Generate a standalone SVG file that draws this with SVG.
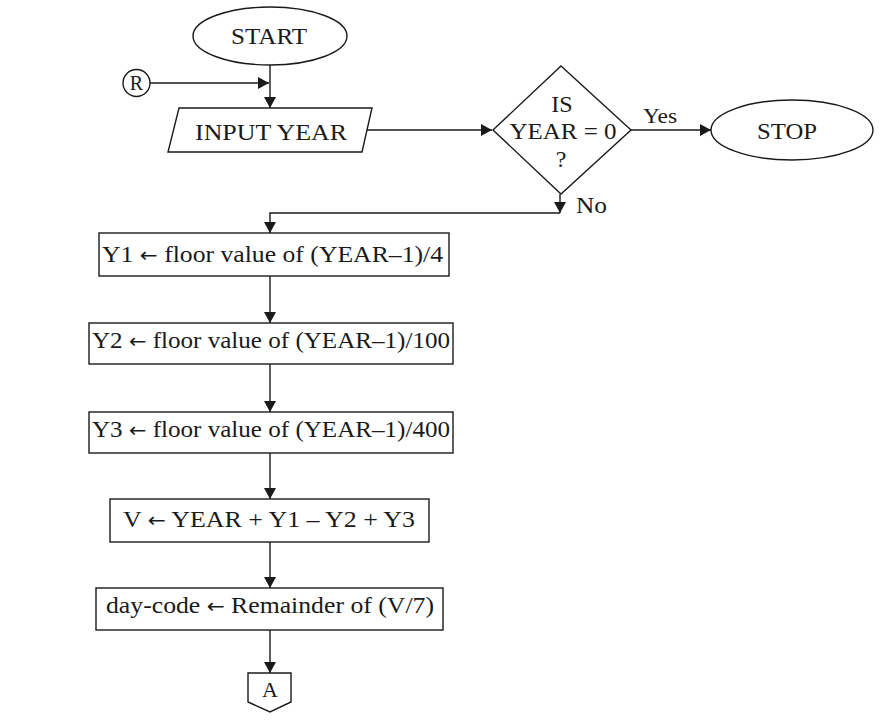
<svg xmlns="http://www.w3.org/2000/svg" width="882" height="720" viewBox="0 0 882 720">
<defs>
<marker id="ah" markerUnits="userSpaceOnUse" markerWidth="12" markerHeight="13" refX="11" refY="6.5" orient="auto">
<path d="M0,0.5 L11,6.5 L0,12.5 z" fill="#1a1a1a"/>
</marker>
</defs>
<style>
.s{fill:#fff;stroke:#1a1a1a;stroke-width:1.4}
.c{fill:none;stroke:#1a1a1a;stroke-width:1.4}
text{font-family:"Liberation Serif","Times New Roman",serif;fill:#1a1a1a;font-size:24px}
.m{text-anchor:middle}
.ar{font-family:"DejaVu Sans",sans-serif;font-size:20px}
</style>
<rect width="882" height="720" fill="#fff"/>
<g id="connectors">
<line class="c" x1="270" y1="65" x2="270" y2="108" marker-end="url(#ah)"/>
<line class="c" x1="150" y1="83" x2="269" y2="83" marker-end="url(#ah)"/>
<line class="c" x1="367" y1="130" x2="492" y2="130" marker-end="url(#ah)"/>
<line class="c" x1="631" y1="130" x2="711" y2="130" marker-end="url(#ah)"/>
<line class="c" x1="560" y1="194" x2="560" y2="213" marker-end="url(#ah)"/>
<polyline class="c" points="560,213 270,213 270,233" marker-end="url(#ah)"/>
<line class="c" x1="270" y1="276" x2="270" y2="323" marker-end="url(#ah)"/>
<line class="c" x1="270" y1="364" x2="270" y2="412" marker-end="url(#ah)"/>
<line class="c" x1="270" y1="453" x2="270" y2="499" marker-end="url(#ah)"/>
<line class="c" x1="270" y1="542" x2="270" y2="588" marker-end="url(#ah)"/>
<line class="c" x1="270" y1="630" x2="270" y2="673" marker-end="url(#ah)"/>
<text x="643" y="123" style="font-size:22px" textLength="34" lengthAdjust="spacingAndGlyphs">Yes</text>
<text x="576" y="213" textLength="31" lengthAdjust="spacingAndGlyphs">No</text>
</g>
<g id="start">
<ellipse class="s" cx="270" cy="36" rx="77" ry="29"/>
<text class="m" x="269" y="44" textLength="76" lengthAdjust="spacingAndGlyphs">START</text>
</g>
<g id="r">
<circle class="s" cx="136.5" cy="83" r="13.5"/>
<text class="m" x="136.5" y="90" style="font-size:20px">R</text>
</g>
<g id="input">
<polygon class="s" points="179,108 372,108 362,152 168,152"/>
<text class="m" x="271" y="140" textLength="152" lengthAdjust="spacingAndGlyphs">INPUT YEAR</text>
</g>
<g id="decision">
<polygon class="s" points="561,66 631,130 561,194 493,130"/>
<text class="m" x="562" y="112">IS</text>
<text class="m" x="563" y="139" textLength="107" lengthAdjust="spacingAndGlyphs">YEAR = 0</text>
<text class="m" x="561" y="167">?</text>
</g>
<g id="stop">
<ellipse class="s" cx="792" cy="130" rx="81" ry="30"/>
<text class="m" x="787" y="139" textLength="60" lengthAdjust="spacingAndGlyphs">STOP</text>
</g>
<g id="y1">
<rect class="s" x="99" y="233" width="350" height="43"/>
<text class="m" x="272.5" y="262" textLength="341" lengthAdjust="spacingAndGlyphs">Y1 <tspan class="ar">←</tspan> floor value of (YEAR–1)/4</text>
</g>
<g id="y2">
<rect class="s" x="89" y="323" width="364" height="41"/>
<text class="m" x="271" y="348" textLength="358" lengthAdjust="spacingAndGlyphs">Y2 <tspan class="ar">←</tspan> floor value of (YEAR–1)/100</text>
</g>
<g id="y3">
<rect class="s" x="89" y="412" width="364" height="41"/>
<text class="m" x="271" y="437" textLength="358" lengthAdjust="spacingAndGlyphs">Y3 <tspan class="ar">←</tspan> floor value of (YEAR–1)/400</text>
</g>
<g id="v">
<rect class="s" x="110" y="499" width="319" height="43"/>
<text class="m" x="269" y="527" textLength="292" lengthAdjust="spacingAndGlyphs">V <tspan class="ar">←</tspan> YEAR + Y1 – Y2 + Y3</text>
</g>
<g id="daycode">
<rect class="s" x="96" y="588" width="347" height="42"/>
<text class="m" x="270" y="613" textLength="328" lengthAdjust="spacingAndGlyphs">day-code <tspan class="ar">←</tspan> Remainder of (V/7)</text>
</g>
<g id="a">
<polygon class="s" points="248,673 291,673 291,702 270,712 248,702"/>
<text class="m" x="270" y="697" style="font-size:22px">A</text>
</g>
</svg>
